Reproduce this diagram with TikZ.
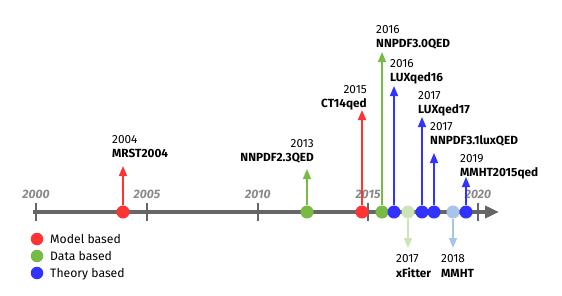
\documentclass[tikz,border=0pt]{standalone}
\usepackage{fontspec}
\setmainfont{Fira Sans}
\usetikzlibrary{arrows.meta}
\definecolor{cred}{HTML}{FF3333}
\definecolor{cgreen}{HTML}{77BB44}
\definecolor{cblue}{HTML}{3333FF}
\definecolor{clgreen}{HTML}{CCE4B8}
\definecolor{clblue}{HTML}{A8C4E8}
\definecolor{axisgray}{HTML}{666666}
\definecolor{yeargray}{HTML}{8A8A8A}
\begin{document}
\begin{tikzpicture}[x=1pt,y=-1pt,
  dot/.style={circle,fill=#1,inner sep=0pt,minimum size=13pt},
  ldot/.style={circle,fill=#1,inner sep=0pt,minimum size=12.5pt},
  stem/.style={draw=#1,line width=1.4pt,-{Triangle[length=10pt,width=8pt]}},
  txt/.style={font=\fontsize{11.8}{13}\selectfont, inner sep=0pt},
  nm/.style={font=\fontsize{11.8}{13}\selectfont\bfseries, inner sep=0pt},
  lgd/.style={font=\fontsize{12.2}{13}\selectfont, inner sep=0pt},
  axyear/.style={font=\fontsize{12.2}{13}\selectfont\bfseries\itshape, text=yeargray, inner sep=0pt},
  tickmark/.style={draw=axisgray,line width=2pt}]
\useasboundingbox (0,0) rectangle (562,295);
% axis
\coordinate (axs) at (33,212);
\coordinate (axe) at (499,212);
\draw[axisgray,line width=3.5pt,-{Triangle[length=14pt,width=12pt]}] (axs) -- (axe);
% ticks and year labels
\foreach \x/\y in {36/2000,147/2005,258/2010,368/2015,478/2020}{
  \coordinate (tt\y) at (\x,203);
  \coordinate (tb\y) at (\x,221);
  \draw[tickmark] (tt\y) -- (tb\y);
  \node[axyear] (yl\y) at (\x,194) {\y};
}
% tips
\coordinate (tMRST) at (123,166);
\coordinate (tNN23) at (307,169);
\coordinate (tCT) at (362,110);
\coordinate (tNN30) at (382,52);
\coordinate (tLUX16) at (394,86);
\coordinate (tLUX17) at (422,117);
\coordinate (tNN31) at (434,153);
\coordinate (tMMHT15) at (466,177);
\coordinate (txF) at (408,248);
\coordinate (tMMHT) at (453,248);
% dots
\node[dot=cred] (dMRST) at (123,212) {};
\node[dot=cgreen] (dNN23) at (307,212) {};
\node[dot=cred] (dCT) at (362,212) {};
\node[dot=cgreen] (dNN30) at (382,212) {};
\node[dot=cblue] (dLUX16) at (394,212) {};
\node[dot=clgreen] (dxF) at (408,212) {};
\node[dot=cblue] (dLUX17) at (422,212) {};
\node[dot=cblue] (dNN31) at (434,212) {};
\node[dot=clblue] (dMMHT) at (453,212) {};
\node[dot=cblue] (dMMHT15) at (466,212) {};
% stems
\draw[stem=cred] (dMRST) -- (tMRST);
\draw[stem=cgreen] (dNN23) -- (tNN23);
\draw[stem=cred] (dCT) -- (tCT);
\draw[stem=cgreen] (dNN30) -- (tNN30);
\draw[stem=cblue] (dLUX16) -- (tLUX16);
\draw[stem=cblue] (dLUX17) -- (tLUX17);
\draw[stem=cblue] (dNN31) -- (tNN31);
\draw[stem=cblue] (dMMHT15) -- (tMMHT15);
\draw[stem=clgreen] (dxF) -- (txF);
\draw[stem=clblue] (dMMHT) -- (tMMHT);
% labels
\node[txt,anchor=base west] (yMRST) at (112,143) {2004};
\node[nm,anchor=base west] (nMRST) at (112,157) {MRST2004};
\node[txt,anchor=base east] (yNN23) at (314,147) {2013};
\node[nm,anchor=base east] (nNN23) at (314,161) {NNPDF2.3QED};
\node[txt,anchor=base east] (yCT) at (367,93) {2015};
\node[nm,anchor=base east] (nCT) at (367,107) {CT14qed};
\node[txt,anchor=base west] (yNN30) at (376,33) {2016};
\node[nm,anchor=base west] (nNN30) at (376,47) {NNPDF3.0QED};
\node[txt,anchor=base west] (yLUX16) at (390,67) {2016};
\node[nm,anchor=base west] (nLUX16) at (390,81) {LUXqed16};
\node[txt,anchor=base west] (yLUX17) at (418,99) {2017};
\node[nm,anchor=base west] (nLUX17) at (418,113) {LUXqed17};
\node[txt,anchor=base west] (yNN31) at (430,130) {2017};
\node[nm,anchor=base west] (nNN31) at (430,144) {NNPDF3.1luxQED};
\node[txt,anchor=base west] (yMMHT15) at (460,162) {2019};
\node[nm,anchor=base west] (nMMHT15) at (460,176) {MMHT2015qed};
\node[txt,anchor=base west] (yxF) at (396,262) {2017};
\node[nm,anchor=base west] (nxF) at (396,277) {xFitter};
\node[txt,anchor=base west] (yMMHT) at (441,262) {2018};
\node[nm,anchor=base west] (nMMHT) at (441,277) {MMHT};
% legend
\node[ldot=cred] (lr) at (37,239) {};
\node[ldot=cgreen] (lg) at (37,256) {};
\node[ldot=cblue] (lb) at (37,273) {};
\node[lgd,anchor=base west] (tr) at (50,243) {Model based};
\node[lgd,anchor=base west] (tg) at (50,260) {Data based};
\node[lgd,anchor=base west] (tb) at (50,277) {Theory based};
\end{tikzpicture}
\end{document}
